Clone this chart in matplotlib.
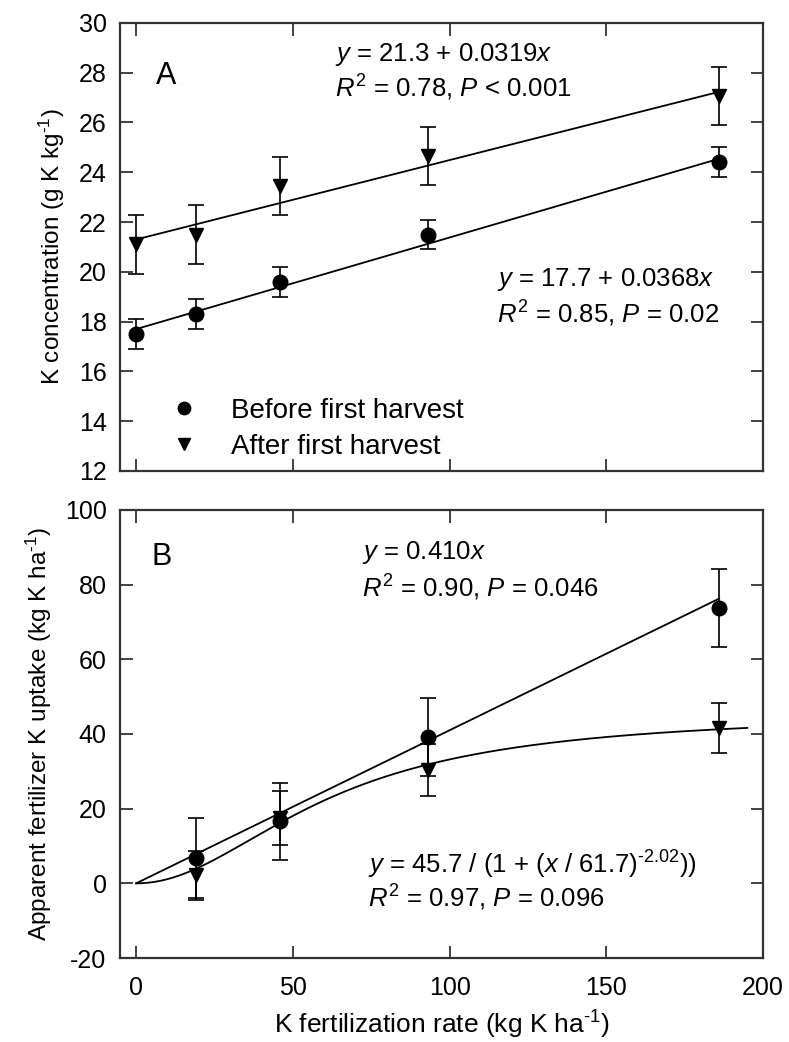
import numpy as np
import matplotlib
matplotlib.use("Agg")
import matplotlib.pyplot as plt

plt.rcParams["font.family"] = ["Liberation Sans", "DejaVu Sans"]
plt.rcParams["mathtext.fontset"] = "custom"
plt.rcParams["mathtext.rm"] = "Liberation Sans"
plt.rcParams["mathtext.it"] = "Liberation Sans:italic"
plt.rcParams["axes.unicode_minus"] = False

# K fertilization rate (kg K/ha)
rates = [0, 19, 46, 93, 186]

# Panel A: K concentration (g K/kg)
conc_before = [17.5, 18.3, 19.6, 21.5, 24.4]
conc_before_err = [0.6, 0.6, 0.6, 0.6, 0.6]
conc_after = [21.1, 21.5, 23.45, 24.65, 27.05]
conc_after_err = [1.17, 1.19, 1.18, 1.17, 1.17]

# Panel B: apparent fertilizer K uptake (kg K/ha), no value at rate 0
uptake_rates = [19, 46, 93, 186]
uptake_before = [6.8, 16.6, 39.2, 73.7]
uptake_before_err = [10.8, 10.4, 10.4, 10.4]
uptake_after = [2.1, 17.5, 30.4, 41.5]
uptake_after_err = [6.5, 7.2, 7.0, 6.7]

TICK_FS = 18
TEXT_FS = 18.5
LABEL_FS = 17.5
EB = dict(color="black", ms=10.5, capsize=5.5, elinewidth=1.2, capthick=1.2)


def style_axes(ax):
    ax.tick_params(direction="in", top=True, right=True, length=9, width=1.3,
                   labelsize=TICK_FS, color="#333333")
    ax.tick_params(axis="y", pad=10)
    ax.tick_params(axis="x", pad=13)
    for s in ax.spines.values():
        s.set_linewidth(1.6)
        s.set_color("#333333")


fig = plt.figure(figsize=(7.89, 10.42), dpi=100)
axA = fig.add_axes([0.1527, 0.548, 0.8144, 0.430])
axB = fig.add_axes([0.1527, 0.0806, 0.8144, 0.430])

# ---- Panel A
xa = np.linspace(0, 186, 100)
axA.plot(xa, 21.3 + 0.0319 * xa, color="black", lw=1.3)
axA.plot(xa, 17.7 + 0.0368 * xa, color="black", lw=1.3)
axA.errorbar(rates, conc_before, yerr=conc_before_err, fmt="o", label="Before first harvest", **EB)
axA.errorbar(rates, conc_after, yerr=conc_after_err, fmt="v", label="After first harvest", **EB)
axA.set_xlim(-5, 200)
axA.set_ylim(12, 30)
axA.set_yticks(range(12, 31, 2))
axA.set_xticks([0, 50, 100, 150, 200])
axA.set_xticklabels([])
axA.set_ylabel("K concentration (g K kg$^{\\text{-}1}$)", fontsize=LABEL_FS, labelpad=8)
style_axes(axA)
axA.text(6.2, 27.87, "A", fontsize=22, va="center")
axA.text(63.5, 28.75, "$\\it{y}$ = 21.3 + 0.0319$\\it{x}$", fontsize=TEXT_FS, va="center")
axA.text(63.5, 27.4, "$\\it{R}^2$ = 0.78, $\\it{P}$ < 0.001", fontsize=TEXT_FS, va="center")
axA.text(115, 19.7, "$\\it{y}$ = 17.7 + 0.0368$\\it{x}$", fontsize=TEXT_FS, va="center")
axA.text(115, 18.3, "$\\it{R}^2$ = 0.85, $\\it{P}$ = 0.02", fontsize=TEXT_FS, va="center")
handles, labels = axA.get_legend_handles_labels()
handles = [h[0] for h in handles]
axA.legend(handles, labels, loc="lower left", bbox_to_anchor=(0.06, 0.0), borderaxespad=0,
           frameon=False, fontsize=20, handletextpad=1.2, labelspacing=0.35,
           handlelength=1.0, markerscale=0.85)

# ---- Panel B
xb = np.linspace(0, 186, 200)
axB.plot(xb, 0.410 * xb, color="black", lw=1.3)
xs = np.linspace(0.01, 195, 300)
axB.plot(xs, 45.7 / (1 + (xs / 61.7) ** -2.02), color="black", lw=1.3)
axB.errorbar(uptake_rates, uptake_before, yerr=uptake_before_err, fmt="o", **EB)
axB.errorbar(uptake_rates, uptake_after, yerr=uptake_after_err, fmt="v", **EB)
axB.set_xlim(-5, 200)
axB.set_ylim(-20, 100)
axB.set_yticks(range(-20, 101, 20))
axB.set_xticks([0, 50, 100, 150, 200])
axB.set_ylabel("Apparent fertilizer K uptake (kg K ha$^{\\text{-}1}$)", fontsize=LABEL_FS, labelpad=8)
axB.set_xlabel("K fertilization rate (kg K ha$^{\\text{-}1}$)", fontsize=19, labelpad=6)
style_axes(axB)
axB.text(5.0, 87.3, "B", fontsize=22, va="center")
axB.text(72, 88.7, "$\\it{y}$ = 0.410$\\it{x}$", fontsize=TEXT_FS, va="center")
axB.text(72, 79.2, "$\\it{R}^2$ = 0.90, $\\it{P}$ = 0.046", fontsize=TEXT_FS, va="center")
axB.text(74, 5.0, "$\\it{y}$ = 45.7 / (1 + ($\\it{x}$ / 61.7)$^{\\text{-}2.02}$))", fontsize=TEXT_FS, va="center")
axB.text(74, -3.9, "$\\it{R}^2$ = 0.97, $\\it{P}$ = 0.096", fontsize=TEXT_FS, va="center")

fig.savefig("out.png", dpi=100)
